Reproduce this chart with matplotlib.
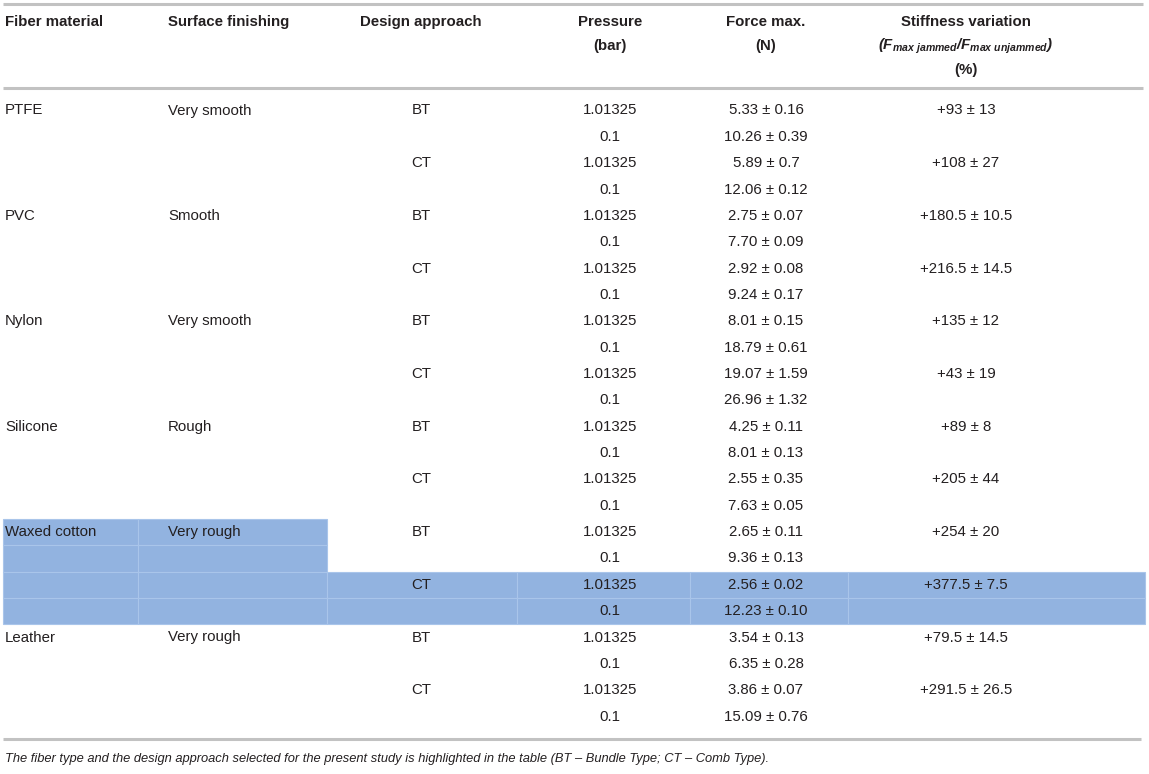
import matplotlib
matplotlib.use("Agg")
import matplotlib.pyplot as plt
from matplotlib.patches import Rectangle

plt.rcParams['font.family'] = ['Liberation Sans', 'DejaVu Sans']
plt.rcParams['mathtext.fontset'] = 'custom'
plt.rcParams['mathtext.rm'] = 'Liberation Sans:italic:bold'
plt.rcParams['mathtext.it'] = 'Liberation Sans:italic:bold'
plt.rcParams['mathtext.bf'] = 'Liberation Sans:italic:bold'

# ---- data ----
headers_line1 = ["Fiber material", "Surface finishing", "Design approach", "Pressure", "Force max.", "Stiffness variation"]
headers_line2 = ["", "", "", "(bar)", "(N)", r"$(F_{max\ jammed}/F_{max\ unjammed})$"]
headers_line3 = ["", "", "", "", "", "(%)"]

materials = ["PTFE", "PVC", "Nylon", "Silicone", "Waxed cotton", "Leather"]
finishing = ["Very smooth", "Smooth", "Very smooth", "Rough", "Very rough", "Very rough"]
designs = ["BT", "CT"]
pressures = ["1.01325", "0.1"]
forces = [
    "5.33 ± 0.16", "10.26 ± 0.39", "5.89 ± 0.7", "12.06 ± 0.12",
    "2.75 ± 0.07", "7.70 ± 0.09", "2.92 ± 0.08", "9.24 ± 0.17",
    "8.01 ± 0.15", "18.79 ± 0.61", "19.07 ± 1.59", "26.96 ± 1.32",
    "4.25 ± 0.11", "8.01 ± 0.13", "2.55 ± 0.35", "7.63 ± 0.05",
    "2.65 ± 0.11", "9.36 ± 0.13", "2.56 ± 0.02", "12.23 ± 0.10",
    "3.54 ± 0.13", "6.35 ± 0.28", "3.86 ± 0.07", "15.09 ± 0.76",
]
stiffness = [
    "+93 ± 13", "+108 ± 27",
    "+180.5 ± 10.5", "+216.5 ± 14.5",
    "+135 ± 12", "+43 ± 19",
    "+89 ± 8", "+205 ± 44",
    "+254 ± 20", "+377.5 ± 7.5",
    "+79.5 ± 14.5", "+291.5 ± 26.5",
]
caption = ("The fiber type and the design approach selected for the present study is highlighted "
           "in the table (BT – Bundle Type; CT – Comb Type).")
highlight_material = "Waxed cotton"
highlight_design = "CT"

# ---- layout ----
W, H = 1149, 774
fig = plt.figure(figsize=(W / 100, H / 100), dpi=100)
ax = fig.add_axes([0, 0, 1, 1])
ax.set_xlim(0, W)
ax.set_ylim(H, 0)
ax.axis('off')

TXT = '#231f20'
FS = 10.8
GRID = '#c2c2c2'
HL = '#92b3e0'
HL_EDGE = '#a9c5ea'

col_bounds = [3, 138, 327, 517, 690, 848, 1145]
col_x = [5, 168, 421, 610, 766, 966]
col_ha = ['left', 'left', 'center', 'center', 'center', 'center']

row0 = 110.5
dy = 26.35

def row_y(i):
    return row0 + dy * i

# highlights
for mi, m in enumerate(materials):
    if m != highlight_material:
        continue
    for di, d in enumerate(designs):
        for pi in range(len(pressures)):
            r = mi * 4 + di * 2 + pi
            top = row_y(r) - dy / 2
            ncols = 6 if d == highlight_design else 2
            for c in range(ncols):
                ax.add_patch(Rectangle((col_bounds[c], top), col_bounds[c + 1] - col_bounds[c], dy,
                                       facecolor=HL, edgecolor=HL_EDGE, linewidth=0.8, zorder=1))

# rules
for y in [4, 88]:
    ax.plot([3, 1143], [y, y], color=GRID, lw=2.2, solid_capstyle='butt', zorder=2)
ax.plot([3, 1141], [739, 739], color=GRID, lw=2.2, solid_capstyle='butt', zorder=2)

# headers
for c in range(6):
    for line, yy in zip([headers_line1, headers_line2, headers_line3], [22, 46, 70]):
        t = line[c]
        if t:
            ax.text(col_x[c], yy, t, ha=col_ha[c], va='center', fontsize=FS,
                    fontweight='bold', color=TXT, zorder=3)

# body
for mi, m in enumerate(materials):
    base = mi * 4
    ax.text(col_x[0], row_y(base), m, ha='left', va='center', fontsize=FS, color=TXT, zorder=3)
    ax.text(col_x[1], row_y(base), finishing[mi], ha='left', va='center', fontsize=FS, color=TXT, zorder=3)
    for di, d in enumerate(designs):
        r = base + di * 2
        ax.text(col_x[2], row_y(r), d, ha='center', va='center', fontsize=FS, color=TXT, zorder=3)
        ax.text(col_x[5], row_y(r), stiffness[mi * 2 + di], ha='center', va='center',
                fontsize=FS, color=TXT, zorder=3)
        for pi, p in enumerate(pressures):
            rr = r + pi
            ax.text(col_x[3], row_y(rr), p, ha='center', va='center', fontsize=FS, color=TXT, zorder=3)
            ax.text(col_x[4], row_y(rr), forces[rr], ha='center', va='center', fontsize=FS,
                    color=TXT, zorder=3)

ax.text(5, 759, caption, ha='left', va='center', fontsize=9.25, style='italic', color=TXT)

fig.savefig('out.png', dpi=100)
